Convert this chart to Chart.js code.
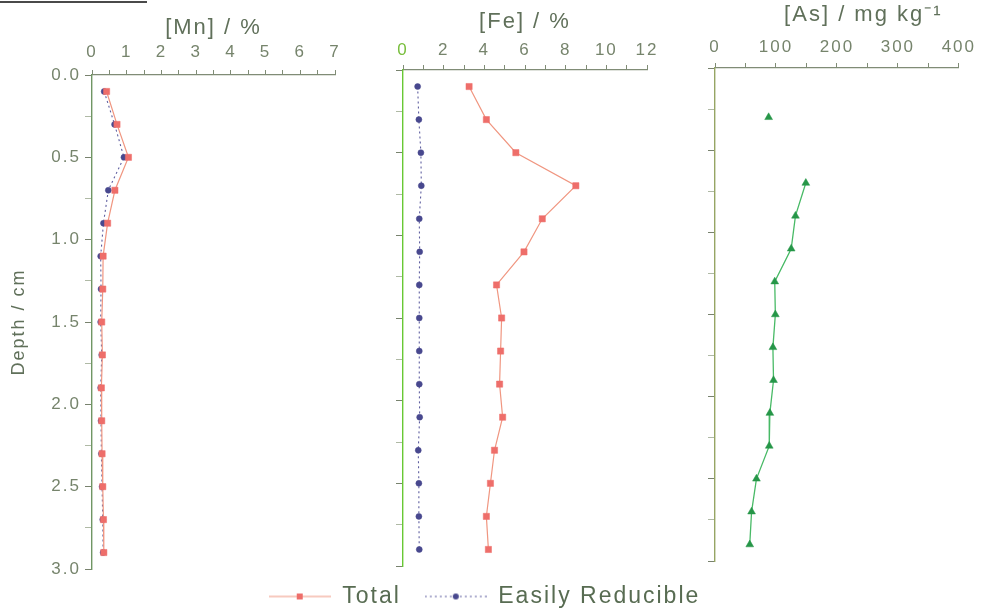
<!DOCTYPE html>
<html>
<head>
<meta charset="utf-8">
<title>Depth profiles</title>
<script src="https://cdn.jsdelivr.net/npm/chart.js@4.4.1/dist/chart.umd.min.js"></script>
<style>
  body { margin: 0; background: #fff; }
  #wrap { position: relative; width: 981px; height: 616px; overflow: hidden; background: #fff; }
  #wrap canvas { position: absolute; left: 0; top: 0; }
  #rule { position: absolute; left: 0; top: 1px; width: 147px; height: 2px; background: #4a4a4a; }
</style>
</head>
<body>
<div id="wrap">
  <div id="rule"></div>
  <canvas id="mnChart" width="981" height="616"></canvas>
  <canvas id="feChart" width="981" height="616"></canvas>
  <canvas id="asChart" width="981" height="616"></canvas>
  <canvas id="keyChart" width="981" height="120" style="top:555px"></canvas>
</div>
<script>
// sampling depths (cm)
const depth = [0.1, 0.3, 0.5, 0.7, 0.9, 1.1, 1.3, 1.5, 1.7, 1.9, 2.1, 2.3, 2.5, 2.7, 2.9];

// [Mn] / %
const mnTotal     = [0.42, 0.72, 1.05, 0.66, 0.45, 0.32, 0.31, 0.28, 0.30, 0.27, 0.28, 0.29, 0.31, 0.33, 0.34];
const mnReducible = [0.35, 0.65, 0.92, 0.47, 0.33, 0.25, 0.26, 0.25, 0.28, 0.25, 0.26, 0.27, 0.29, 0.31, 0.32];

// [Fe] / %
const feTotal     = [3.25, 4.1, 5.55, 8.5, 6.85, 5.95, 4.6, 4.85, 4.8, 4.75, 4.9, 4.5, 4.3, 4.1, 4.2];
const feReducible = [0.72, 0.78, 0.88, 0.9, 0.8, 0.82, 0.8, 0.8, 0.8, 0.8, 0.82, 0.75, 0.78, 0.78, 0.8];

// [As] / mg kg-1 (no value at 0.1 and 0.5)
const asTotal = [null, 88, null, 149, 132, 125, 98, 99, 95, 96, 90, 89, 68, 60, 57];

const depthTicks = ['0.0', '0.5', '1.0', '1.5', '2.0', '2.5', '3.0'];
const seriesNames = ['Total', 'Easily Reducible'];

const FONT = "'Liberation Sans', Arial, sans-serif";
const totalLine = 'rgb(240,150,128)';
const totalMark = 'rgb(238,110,106)';
const redLine = 'rgb(95,95,160)';
const redMark = 'rgb(72,72,142)';
const asLine = 'rgb(72,186,102)';
const asMark = 'rgb(38,150,72)';
const topAxis = 'rgb(128,140,118)';
const tickText = 'rgb(118,132,108)';
const titleText = 'rgb(96,112,90)';

// all text on these charts is set a little wide
Chart.register({
  id: 'spacing',
  beforeUpdate: chart => { chart.ctx.letterSpacing = '2px'; },
  beforeDraw: chart => { chart.ctx.letterSpacing = '2px'; }
});

function points(xs) {
  return xs.map((v, i) => ({ x: v, y: depth[i] }));
}

function totalSet(xs) {
  return {
    label: seriesNames[0], data: points(xs),
    borderColor: totalLine, borderWidth: 1.2,
    pointStyle: 'rect', pointRadius: 4.4,
    pointBackgroundColor: totalMark, pointBorderColor: totalMark, pointBorderWidth: 0.5,
    tension: 0
  };
}

function reducibleSet(xs) {
  return {
    label: seriesNames[1], data: points(xs),
    borderColor: redLine, borderWidth: 1.1, borderDash: [2, 3],
    pointStyle: 'circle', pointRadius: 3,
    pointBackgroundColor: redMark, pointBorderColor: redMark, pointBorderWidth: 0.5,
    tension: 0
  };
}

// one depth profile; p gives the plot box in page pixels
function profileOptions(p) {
  return {
    responsive: false,
    animation: false,
    events: [],
    layout: { padding: { left: p.left - p.yWidth, right: 981 - p.right, top: 0, bottom: 616 - p.bottom } },
    plugins: { legend: { display: false }, tooltip: { enabled: false } },
    scales: {
      x: {
        type: 'linear', position: 'top', min: 0, max: p.xMax,
        afterFit: s => { s.height = p.top; },
        border: { color: topAxis, width: 1.2 },
        grid: { drawOnChartArea: false, drawTicks: true, tickLength: 5, tickColor: topAxis },
        ticks: {
          stepSize: p.xStep, autoSkip: false, maxRotation: 0, padding: p.tickPad,
          color: p.xTickColor || tickText,
          font: { family: FONT, size: 17 },
          callback: v => (Math.abs(v / p.xLabelStep - Math.round(v / p.xLabelStep)) < 1e-6 ? String(v) : '')
        },
        title: {
          display: true, text: p.title, color: titleText, align: p.titleAlign || 'center',
          font: { family: FONT, size: 22 }, padding: { top: p.titlePad, bottom: 0 }
        }
      },
      y: {
        type: 'linear', reverse: true, min: 0, max: 3,
        afterFit: s => { s.width = p.yWidth; },
        border: { color: p.yColor, width: 1.4 },
        grid: {
          drawOnChartArea: false, drawTicks: true, tickLength: 7,
          tickColor: c => (Math.abs(c.tick.value * 2 - Math.round(c.tick.value * 2)) < 1e-6 ? 'rgb(120,130,110)' : 'rgb(175,185,165)')
        },
        ticks: {
          display: p.yLabels, stepSize: 0.25, autoSkip: false, padding: 4,
          color: tickText, font: { family: FONT, size: 17 },
          callback: v => {
            const k = Math.round(v * 2);
            return Math.abs(v * 2 - k) < 1e-6 ? depthTicks[k] : '';
          }
        },
        title: {
          display: p.yLabels, text: 'Depth / cm', color: titleText,
          font: { family: FONT, size: 18 }, padding: { top: 8, bottom: 0 }
        }
      }
    }
  };
}

new Chart(document.getElementById('mnChart'), {
  type: 'line',
  data: { datasets: [totalSet(mnTotal), reducibleSet(mnReducible)] },
  options: profileOptions({
    left: 92, right: 335, top: 75, bottom: 569, yWidth: 92, yLabels: true,
    xMax: 7, xStep: 0.5, xLabelStep: 1, tickPad: 7, titlePad: 15,
    title: '[Mn] / %', yColor: 'rgb(112,150,100)'
  })
});

new Chart(document.getElementById('feChart'), {
  type: 'line',
  data: { datasets: [totalSet(feTotal), reducibleSet(feReducible)] },
  options: profileOptions({
    left: 403, right: 647, top: 70, bottom: 566, yWidth: 13, yLabels: false,
    xMax: 12, xStep: 1, xLabelStep: 2, tickPad: 4, titlePad: 9,
    title: '[Fe] / %', yColor: 'rgb(104,200,52)',
    xTickColor: c => (c.tick.value === 0 ? 'rgb(120,190,60)' : tickText)
  })
});

new Chart(document.getElementById('asChart'), {
  type: 'line',
  data: {
    datasets: [{
      label: 'As', data: points(asTotal), spanGaps: false,
      borderColor: asLine, borderWidth: 1.3,
      pointStyle: 'triangle', pointRadius: 4.5,
      pointBackgroundColor: asMark, pointBorderColor: asMark, pointBorderWidth: 0.5,
      tension: 0
    }]
  },
  options: profileOptions({
    left: 715, right: 959, top: 68, bottom: 561, yWidth: 15, yLabels: false,
    xMax: 400, xStep: 50, xLabelStep: 100, tickPad: 5, titlePad: 2,
    title: '[As] / mg kg\u207B\u00B9\u00A0\u00A0', titleAlign: 'end', yColor: 'rgb(150,165,100)'
  })
});

// legend swatches: a short line with the marker in the middle
function swatch(color, mark, dashed, shape) {
  const c = document.createElement('canvas');
  c.width = 62; c.height = 12;
  const g = c.getContext('2d');
  g.strokeStyle = color; g.lineWidth = 1.2;
  if (dashed) g.setLineDash([2, 3]);
  g.beginPath(); g.moveTo(0, 6); g.lineTo(62, 6); g.stroke();
  g.fillStyle = mark;
  if (shape === 'rect') g.fillRect(28, 3, 6, 6);
  else { g.beginPath(); g.arc(31, 6, 3, 0, Math.PI * 2); g.fill(); }
  return c;
}
const keyIcons = [swatch(totalLine, totalMark, false, 'rect'), swatch(redLine, redMark, true, 'circle')];

new Chart(document.getElementById('keyChart'), {
  type: 'line',
  data: {
    datasets: [
      { label: seriesNames[0], data: [], borderColor: totalLine },
      { label: seriesNames[1], data: [], borderColor: redLine }
    ]
  },
  options: {
    responsive: false, animation: false, events: [],
    layout: { padding: { top: 6, right: 12 } },
    scales: { x: { display: false }, y: { display: false } },
    plugins: {
      tooltip: { enabled: false },
      legend: {
        position: 'top',
        labels: {
          usePointStyle: true, pointStyleWidth: 62, padding: 24,
          color: 'rgb(88,108,82)', font: { family: FONT, size: 23 },
          generateLabels: chart => chart.data.datasets.map((ds, i) => ({
            text: ds.label, pointStyle: keyIcons[i], datasetIndex: i,
            fillStyle: ds.borderColor, strokeStyle: ds.borderColor, lineWidth: 0,
            fontColor: 'rgb(88,108,82)', hidden: false
          }))
        }
      }
    }
  }
});
</script>
</body>
</html>
